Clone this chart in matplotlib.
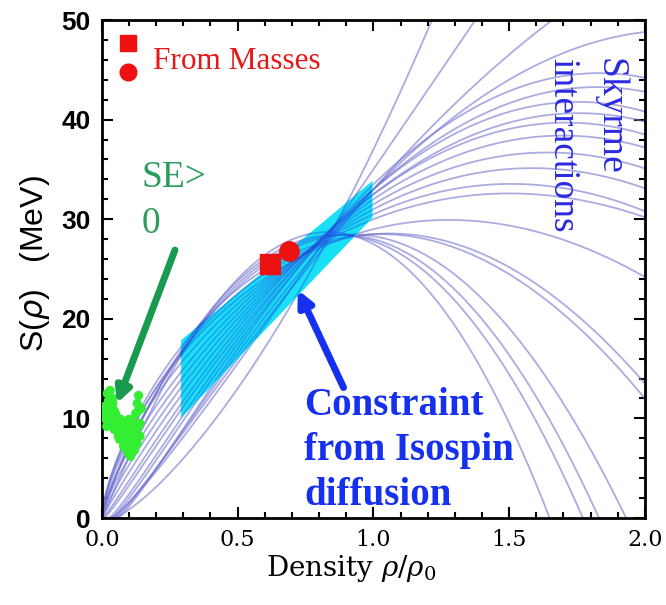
import numpy as np
import matplotlib.pyplot as plt
from matplotlib.ticker import MultipleLocator

# Skyrme curves: S at rho/rho0 = 0.5, 1.0, 2.0 (MeV)
rho_ref = [0.5, 1.0, 2.0]
s_half = [24.0, 23.8, 23.5, 23.2, 23.0, 22.5, 22.0, 21.5, 21.0, 20.5, 20.0,
          19.5, 19.0, 18.5, 18.0, 17.5, 17.0, 16.5, 16.0, 15.5, 13.0]
s_sat = [27.5, 27.8, 28.0, 28.3, 28.5, 28.5, 29.0, 30.0, 30.5, 31.0, 31.5,
         32.0, 32.5, 32.5, 33.0, 33.0, 33.5, 33.0, 33.0, 35.0, 37.0]
s_two = [-30.0, -16.0, -11.0, -4.0, 12.0, 13.5, 24.2, 30.2, 30.8, 33.1, 35.1,
         37.2, 38.5, 39.8, 40.8, 42.8, 44.2, 48.8, 56.0, 75.0, 110.0]

# isospin diffusion band (corners)
band_x = [0.29, 0.995]
band_lo = [10.1, 30.2]
band_hi = [17.9, 33.9]

# masses points
mass_x = [0.62, 0.69]
mass_y = [25.5, 26.8]

# SE>0 points
se_x = [0.02, 0.025, 0.03, 0.03, 0.035, 0.04, 0.045, 0.05, 0.05, 0.055, 0.06,
        0.065, 0.07, 0.07, 0.075, 0.08, 0.085, 0.09, 0.09, 0.095, 0.10, 0.10,
        0.105, 0.11, 0.11, 0.115, 0.12, 0.12, 0.125, 0.13, 0.13, 0.135, 0.14,
        0.14, 0.015, 0.02, 0.04, 0.06, 0.08, 0.095, 0.105, 0.12,
        0.01, 0.012, 0.018, 0.025, 0.035, 0.045, 0.055, 0.065, 0.075, 0.085,
        0.1, 0.115, 0.125, 0.135, 0.145, 0.13, 0.11, 0.09, 0.07, 0.04]
se_y = [12.5, 11.8, 12.8, 11.0, 10.2, 11.5, 10.8, 9.8, 10.5, 9.2, 10.0,
        9.0, 8.5, 9.6, 8.0, 9.2, 8.6, 7.8, 9.4, 8.2, 7.2, 8.8,
        7.6, 8.4, 9.8, 7.0, 8.0, 9.0, 10.5, 11.5, 7.5, 12.3, 9.5,
        8.2, 10.5, 9.8, 9.5, 8.2, 7.2, 6.6, 6.2, 6.8,
        11.2, 10.0, 9.2, 10.4, 9.6, 8.9, 8.8, 7.9, 9.0, 7.4,
        9.9, 8.9, 7.8, 10.8, 11.0, 9.0, 6.8, 7.0, 9.9, 12.0]

fig = plt.figure(figsize=(6.66, 6.05), dpi=100)
ax = fig.add_axes([0.153, 0.1438, 0.8153, 0.8231])

# basis u^(2/3), u, u^2
u = np.linspace(0.0, 2.0, 400)
r = np.array(rho_ref)
M = np.column_stack([r ** (2 / 3), r, r ** 2])
U = np.column_stack([u ** (2 / 3), u, u ** 2])
curves = []
for a, b, c in zip(s_half, s_sat, s_two):
    coef = np.linalg.solve(M, [a, b, c])
    curves.append(U @ coef)

for s in curves:
    ax.plot(u, s, color='#7474d0', lw=1.3, alpha=0.6, zorder=2)

band = ax.fill_between(band_x, band_lo, band_hi, color='#1ae0f6', lw=0, zorder=3)
clip = band.get_paths()[0]
for s in curves:
    ln, = ax.plot(u, s, color='#2050e0', lw=1.3, alpha=0.4, zorder=4)
    ln.set_clip_path(clip, ax.transData)

ax.scatter(se_x, se_y, s=45, color='#33ee33', edgecolors='none', zorder=5)

ax.plot(mass_x[0], mass_y[0], 's', color='#ee1111', ms=14, zorder=6)
ax.plot(mass_x[1], mass_y[1], 'o', color='#ee1111', ms=14, zorder=6)
ax.plot(0.096, 47.7, 's', color='#ee1111', ms=11, zorder=6)
ax.plot(0.096, 44.8, 'o', color='#ee1111', ms=12, zorder=6)
ax.text(0.188, 45.8, 'From Masses', color='#e81818', fontsize=22.5,
        family='Liberation Serif', va='center', ha='left')

ax.text(0.147, 33.2, 'SE>', color='#2a9d5c', fontsize=27,
        family='Liberation Serif', va='baseline')
ax.text(0.147, 28.6, '0', color='#2a9d5c', fontsize=27,
        family='Liberation Serif', va='baseline')
ax.annotate('', xy=(0.055, 11.5), xytext=(0.269, 26.9),
            arrowprops=dict(arrowstyle='-|>', lw=5, color='#1a9a50',
                            mutation_scale=22, shrinkA=0, shrinkB=0), zorder=7)

ax.text(1.871, 46.2, 'Skyrme', color='#2a2ae0', fontsize=27,
        family='Liberation Serif', rotation=-90, ha='center', va='top')
ax.text(1.698, 46.2, 'interactions', color='#2a2ae0', fontsize=27,
        family='Liberation Serif', rotation=-90, ha='center', va='top')

ax.text(0.744, 13.2, 'Constraint\nfrom Isospin\ndiffusion', color='#1530ee',
        fontsize=28, family='Liberation Serif', weight='bold', va='top',
        ha='left', linespacing=1.3)
ax.annotate('', xy=(0.722, 22.9), xytext=(0.89, 13.1),
            arrowprops=dict(arrowstyle='-|>', lw=5, color='#1530ee',
                            mutation_scale=22, shrinkA=0, shrinkB=0), zorder=7)

ax.set_xlim(0, 2)
ax.set_ylim(0, 50)
ax.xaxis.set_major_locator(MultipleLocator(0.5))
ax.xaxis.set_minor_locator(MultipleLocator(0.1))
ax.yaxis.set_major_locator(MultipleLocator(10))
ax.yaxis.set_minor_locator(MultipleLocator(2))
ax.tick_params(which='both', direction='in', top=True, right=True, width=1.5)
ax.tick_params(which='major', length=8)
ax.tick_params(which='minor', length=4)
ax.tick_params(axis='x', pad=8)
ax.tick_params(axis='y', pad=8)
for lab in ax.get_xticklabels():
    lab.set_family('DejaVu Serif')
    lab.set_fontsize(16)
for lab in ax.get_yticklabels():
    lab.set_family('Liberation Sans')
    lab.set_weight('bold')
    lab.set_fontsize(19)
for sp in ax.spines.values():
    sp.set_linewidth(2)

ax.set_xlabel(r'Density $\rho/\rho_0$', family='DejaVu Serif', fontsize=20,
              math_fontfamily='dejavuserif')
ax.xaxis.set_label_coords(0.459, -0.07)
ax.set_ylabel(r'S($\rho$)   (MeV)', family='Liberation Sans', fontsize=23)
ax.yaxis.set_label_coords(-0.092, 0.51)

fig.savefig('out.png', dpi=100)
